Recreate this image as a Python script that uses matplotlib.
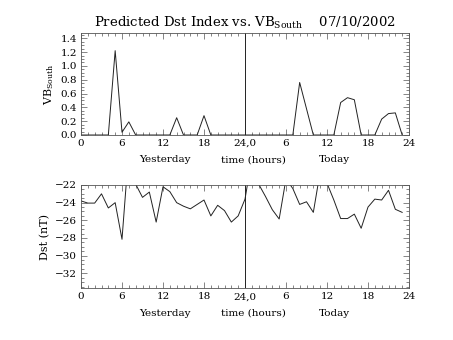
import matplotlib
matplotlib.use("Agg")
import matplotlib.pyplot as plt
from matplotlib.ticker import MultipleLocator, FixedLocator

hours = list(range(48))
vb_south = [0, 0, 0, 0, 0, 1.22, 0.04, 0.19, 0, 0, 0, 0, 0, 0, 0.25, 0, 0, 0, 0.28, 0, 0, 0, 0, 0,
            0, 0, 0, 0, 0, 0, 0, 0, 0.76, 0.38, 0, 0, 0, 0, 0.47, 0.54, 0.51, 0, 0, 0, 0.23, 0.31, 0.32, 0]
dst = [-23.8, -24.05, -24.05, -23.0, -24.6, -24.0, -28.15, -18.0, -21.9, -23.4, -22.8, -26.2,
       -22.2, -22.75, -24.0, -24.4, -24.7, -24.2, -23.7, -25.5, -24.3, -24.9, -26.2, -25.5,
       -23.6, -19.0, -21.9, -23.3, -24.8, -25.85, -21.3, -22.4, -24.2, -23.9, -25.1, -20.5,
       -21.8, -23.7, -25.8, -25.8, -25.3, -26.9, -24.5, -23.6, -23.7, -22.6, -24.75, -25.1]
xtick_pos = [0, 6, 12, 18, 24, 30, 36, 42, 48]
xtick_labels = ["0", "6", "12", "18", "24,0", "6", "12", "18", "24"]
vb_ticks = [0.0, 0.2, 0.4, 0.6, 0.8, 1.0, 1.2, 1.4]
dst_ticks = [-22, -24, -26, -28, -30, -32]

FONT = "DejaVu Serif"
plt.rcParams['font.family'] = FONT
plt.rcParams['mathtext.fontset'] = 'dejavuserif'
W, H = 453, 340
fig = plt.figure(figsize=(W / 100, H / 100), dpi=100)

lc = "#222222"
def style(ax):
    for s in ax.spines.values():
        s.set_linewidth(0.6)
        s.set_color("#555555")
    ax.set_xlim(0, 48)
    ax.xaxis.set_major_locator(FixedLocator(xtick_pos))
    ax.set_xticklabels(xtick_labels)
    ax.xaxis.set_minor_locator(MultipleLocator(1))
    ax.tick_params(which="both", direction="in", top=True, right=True,
                   color="#555555", width=0.5, labelsize=7.5, pad=3)
    ax.tick_params(which="major", length=4)
    ax.tick_params(which="minor", length=2)
    ax.axvline(24, color=lc, lw=0.7)
    for lab, xc in (("Yesterday", 165), ("time (hours)", 253), ("Today", 334)):
        ax.text((xc - 81) / 328 * 48, -0.2, lab, transform=ax.get_xaxis_transform(),
                ha="center", va="top", fontsize=7.5)

ax1 = fig.add_axes([81 / W, 1 - 135 / H, 328 / W, 102.3 / H])
ax1.plot(hours, vb_south, color=lc, lw=0.7)
ax1.set_ylim(0, 1.48)
ax1.yaxis.set_major_locator(FixedLocator(vb_ticks))
ax1.set_yticklabels([f"{v:.1f}" for v in vb_ticks])
ax1.yaxis.set_minor_locator(MultipleLocator(0.05))
style(ax1)
ax1.set_ylabel(r"VB$_{\mathrm{South}}$", fontsize=8, labelpad=3)
ax1.set_title(r"Predicted Dst Index vs. VB$_{\mathrm{South}}$    07/10/2002", fontsize=9.5, pad=4)

ax2 = fig.add_axes([81 / W, 1 - 288.3 / H, 328 / W, 103.3 / H])
ax2.plot(hours, dst, color=lc, lw=0.7)
ax2.set_ylim(-33.7, -22)
ax2.yaxis.set_major_locator(FixedLocator(dst_ticks))
ax2.set_yticklabels([str(v).replace("-", "\u2212") for v in dst_ticks])
ax2.yaxis.set_minor_locator(MultipleLocator(0.5))
style(ax2)
ax2.set_ylabel("Dst (nT)", fontsize=8, labelpad=3)

fig.savefig("out.png", dpi=100)
